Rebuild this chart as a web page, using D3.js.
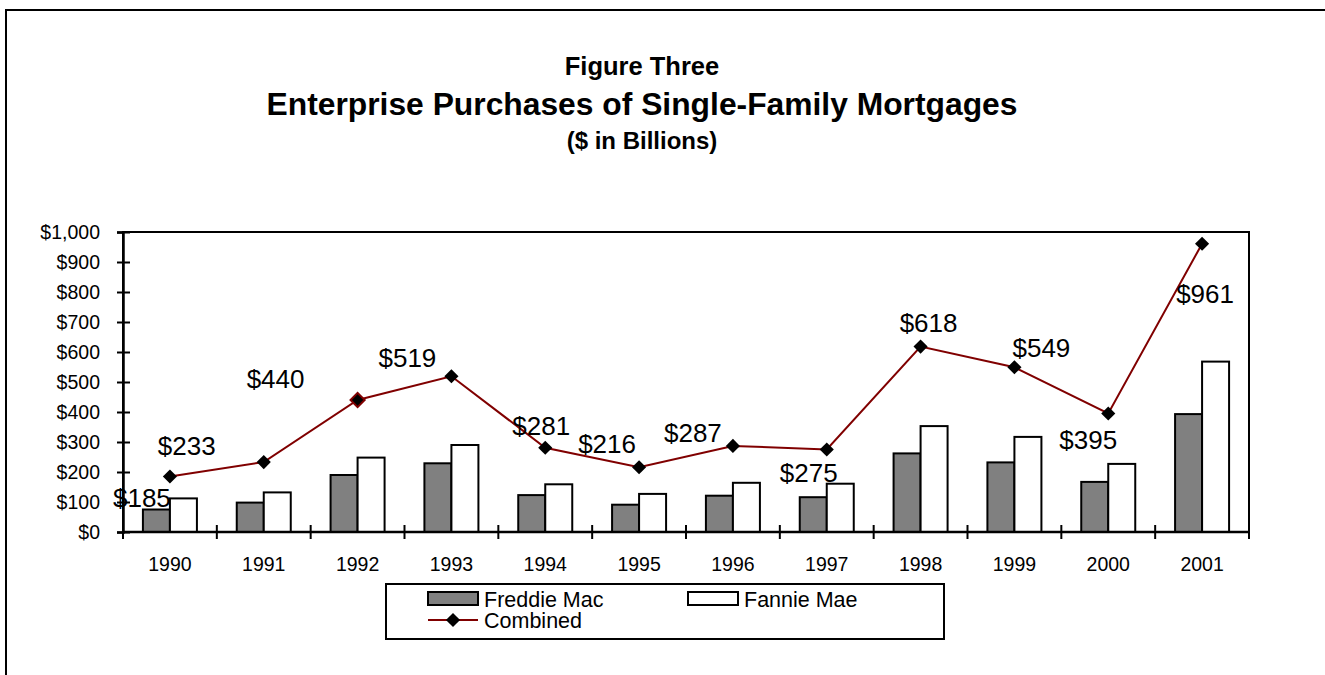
<!DOCTYPE html>
<html>
<head>
<meta charset="utf-8">
<script src="https://cdn.jsdelivr.net/npm/d3@7"></script>
<style>
  body { margin: 0; background: #fff; }
  svg { display: block; }
  text { font-family: "Liberation Sans", Arial, sans-serif; fill: #000; }
</style>
</head>
<body>
<svg id="chart" width="1325" height="675"></svg>
<script>
// data ($ billions)
const years = ['1990','1991','1992','1993','1994','1995','1996','1997','1998','1999','2000','2001'];
const freddieMac = [75, 98, 190, 229, 123, 91, 121, 116, 262, 232, 167, 393];
const fannieMae = [112, 132, 248, 290, 159, 127, 164, 161, 353, 317, 227, 568];
const combined = [185, 233, 440, 519, 281, 216, 287, 275, 618, 549, 395, 961];
const yTicks = [0, 100, 200, 300, 400, 500, 600, 700, 800, 900, 1000];

// where each value label sits relative to its marker (px)
const labelOffsets = [[-28, 30], [-77, -7], [-82, -12], [-44, -9], [-4, -13], [-32, -14],
                      [-40, -4], [-18, 32], [8, -15], [27, -10], [-20, 35], [3, 59]];

const svg = d3.select('#chart');
const m = { left: 123, right: 1249, top: 232, bottom: 532 };
const lineColor = '#800000';

// outer frame (runs off the right and bottom of the picture)
svg.append('path')
    .attr('d', `M6,680V10H1330`)
    .attr('fill', 'none').attr('stroke', '#000').attr('stroke-width', 2);

// titles
svg.append('text').attr('x', 642).attr('y', 75).attr('text-anchor', 'middle')
    .style('font-weight', 'bold').style('font-size', '25.5px').text('Figure Three');
svg.append('text').attr('x', 642).attr('y', 115).attr('text-anchor', 'middle')
    .style('font-weight', 'bold').style('font-size', '31.8px').text('Enterprise Purchases of Single-Family Mortgages');
svg.append('text').attr('x', 642).attr('y', 149).attr('text-anchor', 'middle')
    .style('font-weight', 'bold').style('font-size', '24px').text('($ in Billions)');

const pad = 1 - 54 / ((m.right - m.left) / years.length);
const x0 = d3.scaleBand().domain(years).range([m.left, m.right])
    .paddingInner(pad).paddingOuter(pad / 2);
const x1 = d3.scaleBand().domain(['freddie', 'fannie']).range([0, x0.bandwidth()]);
const xIdx = d3.scaleLinear().domain([0, years.length]).range([m.left, m.right]);
const y = d3.scaleLinear().domain([0, 1000]).range([m.bottom, m.top]);

// plot frame
svg.append('rect')
    .attr('x', m.left).attr('y', m.top)
    .attr('width', m.right - m.left).attr('height', m.bottom - m.top)
    .attr('fill', 'none').attr('stroke', '#000').attr('stroke-width', 2);

// y axis
svg.append('g')
    .attr('transform', `translate(${m.left},0)`)
    .call(d3.axisLeft(y).tickValues(yTicks).tickSize(6).tickPadding(0)
        .tickFormat(d => '$' + d3.format(',')(d)))
    .call(g => g.select('.domain').attr('stroke-width', 2.5))
    .call(g => g.selectAll('.tick line').attr('x1', 7).attr('x2', -6).attr('stroke-width', 2))
    .call(g => g.selectAll('.tick text').attr('x', -23).attr('dy', '0.35em')
        .style('font-size', '19.5px').style('font-family', '"Liberation Sans", Arial, sans-serif'));

// bars
const groups = svg.append('g').selectAll('g')
    .data(years.map((yr, i) => ({ yr, freddie: freddieMac[i], fannie: fannieMae[i] })))
    .join('g')
    .attr('transform', d => `translate(${x0(d.yr)},0)`);

groups.selectAll('rect')
    .data(d => [{ key: 'freddie', v: d.freddie }, { key: 'fannie', v: d.fannie }])
    .join('rect')
    .attr('x', d => x1(d.key))
    .attr('y', d => y(d.v))
    .attr('width', x1.bandwidth())
    .attr('height', d => y(0) - y(d.v))
    .attr('fill', d => d.key === 'freddie' ? '#808080' : '#fff')
    .attr('stroke', '#000').attr('stroke-width', 2);

// x axis
const xAxis = svg.append('g').attr('transform', `translate(0,${m.bottom})`);
xAxis.append('line')
    .attr('x1', m.left).attr('x2', m.right)
    .attr('stroke', '#000').attr('stroke-width', 2.5);
xAxis.selectAll('line.tk')
    .data(d3.range(years.length + 1))
    .join('line').attr('class', 'tk')
    .attr('x1', d => xIdx(d)).attr('x2', d => xIdx(d))
    .attr('y1', -7).attr('y2', 7)
    .attr('stroke', '#000').attr('stroke-width', 2);
xAxis.selectAll('text')
    .data(years)
    .join('text')
    .attr('x', d => x0(d) + x0.bandwidth() / 2)
    .attr('y', 39)
    .attr('text-anchor', 'middle')
    .style('font-size', '19.5px')
    .text(d => d);

// combined line
const cx = i => x0(years[i]) + x0.bandwidth() / 2;
svg.append('path')
    .datum(combined)
    .attr('d', d3.line().x((d, i) => cx(i)).y(d => y(d)))
    .attr('fill', 'none').attr('stroke', lineColor).attr('stroke-width', 2);

const diamond = d3.symbol(d3.symbolSquare, 100);
svg.append('g').selectAll('path')
    .data(combined)
    .join('path')
    .attr('d', diamond)
    .attr('transform', (d, i) => `translate(${cx(i)},${y(d)}) rotate(45)`)
    .attr('fill', '#000')
    .attr('stroke', (d, i) => i === 2 ? lineColor : 'none')
    .attr('stroke-width', 2);

// value labels
svg.append('g').selectAll('text')
    .data(combined)
    .join('text')
    .attr('x', (d, i) => cx(i) + labelOffsets[i][0])
    .attr('y', (d, i) => y(d) + labelOffsets[i][1])
    .attr('text-anchor', 'middle')
    .style('font-size', '26px')
    .text(d => '$' + d);

// legend
const lg = svg.append('g');
lg.append('rect')
    .attr('x', 386).attr('y', 584).attr('width', 558).attr('height', 55)
    .attr('fill', '#fff').attr('stroke', '#000').attr('stroke-width', 2);
const items = [
    { name: 'Freddie Mac', x: 428, y: 592, type: 'bar', fill: '#808080' },
    { name: 'Fannie Mae', x: 688, y: 592, type: 'bar', fill: '#fff' },
    { name: 'Combined', x: 428, y: 613, type: 'line' }
];
items.forEach(it => {
    if (it.type === 'bar') {
        lg.append('rect').attr('x', it.x).attr('y', it.y).attr('width', 50).attr('height', 13)
            .attr('fill', it.fill).attr('stroke', '#000').attr('stroke-width', 2);
    } else {
        lg.append('line').attr('x1', it.x).attr('x2', it.x + 50)
            .attr('y1', it.y + 7).attr('y2', it.y + 7)
            .attr('stroke', lineColor).attr('stroke-width', 2);
        lg.append('path').attr('d', diamond)
            .attr('transform', `translate(${it.x + 25},${it.y + 7}) rotate(45)`)
            .attr('fill', '#000');
    }
    lg.append('text').attr('x', it.x + 56).attr('y', it.y + 15)
        .style('font-size', '21.5px').text(it.name);
});
</script>
</body>
</html>
